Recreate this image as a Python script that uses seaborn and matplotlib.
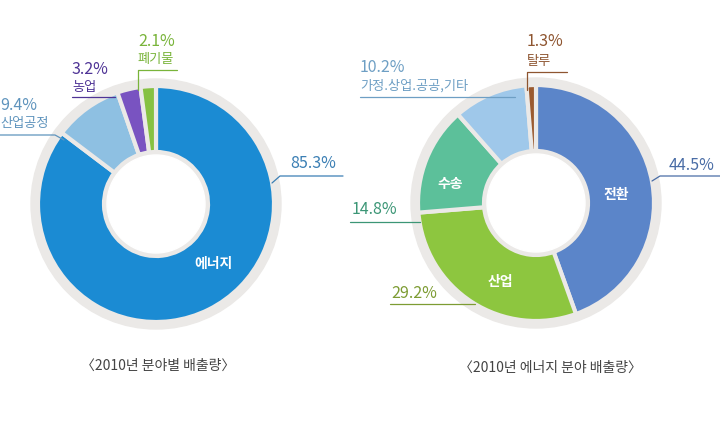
import matplotlib
matplotlib.use("Agg")
import matplotlib.pyplot as plt
from matplotlib.patches import Circle
import seaborn as sns

# 2010년 분야별 배출량
sector_labels = ['에너지', '산업공정', '농업', '폐기물']
sector_share = [85.3, 9.4, 3.2, 2.1]
sector_colors = ['#1b8bd3', '#8ec0e2', '#7953c1', '#86c142']
sector_text = ['#3b7fb4', '#5f94bd', '#4f3496', '#79b43a']

# 2010년 에너지 분야 배출량
energy_labels = ['전환', '산업', '수송', '가정.상업.공공,기타', '탈루']
energy_share = [44.5, 29.2, 14.8, 10.2, 1.3]
energy_colors = ['#5b85c9', '#8dc63f', '#5cc09a', '#9fc8ea', '#9b5a2f']
energy_text = ['#4a6da6', '#7d9c33', '#3c9676', '#6e9fc4', '#8e5530']

W, H = 720, 438

sns.set_theme(style="white")
plt.rcParams['font.family'] = ['Noto Sans CJK KR', 'DejaVu Sans']

fig = plt.figure(figsize=(7.2, 4.38), dpi=100)
ax = fig.add_axes([0, 0, 1, 1])


def donut(cx, cy, values, colors):
    ax.add_patch(Circle((cx, H - cy), 125, color='#ebe9e7', zorder=0))
    ax.pie(values, colors=colors, startangle=90, counterclock=False,
           center=(cx, H - cy), radius=118,
           wedgeprops=dict(width=66, edgecolor='#ebe9e7', linewidth=3))
    ax.add_patch(Circle((cx, H - cy), 49, color='white', zorder=3))


def leader(pts, color):
    ax.plot([p[0] for p in pts], [H - p[1] for p in pts], color=color, lw=0.9, zorder=4)


def label(x, y, s, color, size=11.5, weight='normal', ha='left'):
    ax.text(x, H - y, s, color=color, fontsize=size, fontweight=weight,
            ha=ha, va='center', zorder=5)


donut(156, 204, sector_share, sector_colors)
donut(536, 203, energy_share, energy_colors)

# left chart labels
label(290, 163, f'{sector_share[0]}%', sector_text[0])
leader([(272, 183), (280, 176), (343, 176)], sector_text[0])
label(0, 105, f'{sector_share[1]}%', sector_text[1])
label(0, 124, sector_labels[1], sector_text[1], size=9.5)
leader([(0, 135), (55, 135), (64, 140)], sector_text[1])
label(72, 69, f'{sector_share[2]}%', sector_text[2])
label(72, 87, sector_labels[2], sector_text[2], size=9.5)
leader([(72, 97), (115, 97)], sector_text[2])
label(138, 41, f'{sector_share[3]}%', sector_text[3])
label(138, 59, sector_labels[3], sector_text[3], size=9.5)
leader([(177, 70), (138, 70), (138, 90)], sector_text[3])
label(213, 264, sector_labels[0], 'white', size=10, weight='bold', ha='center')

# right chart labels
label(669, 165, f'{energy_share[0]}%', energy_text[0])
leader([(652, 181), (660, 176), (720, 176)], energy_text[0])
label(391, 294, f'{energy_share[1]}%', energy_text[1])
leader([(390, 304), (475, 304)], energy_text[1])
label(352, 210, f'{energy_share[2]}%', energy_text[2])
leader([(350, 222), (420, 222)], energy_text[2])
label(360, 68, f'{energy_share[3]}%', energy_text[3])
label(360, 86, energy_labels[3], energy_text[3], size=9.5)
leader([(360, 97), (515, 97)], energy_text[3])
label(527, 42, f'{energy_share[4]}%', energy_text[4])
label(527, 61, energy_labels[4], energy_text[4], size=9.5)
leader([(567, 72), (527, 72), (527, 90)], energy_text[4])
label(616, 195, energy_labels[0], 'white', size=10, weight='bold', ha='center')
label(500, 282, energy_labels[1], 'white', size=10, weight='bold', ha='center')
label(450, 184, energy_labels[2], 'white', size=10, weight='bold', ha='center')

# titles
label(158, 366, '〈2010년 분야별 배출량〉', '#444444', size=10, ha='center')
label(550, 368, '〈2010년 에너지 분야 배출량〉', '#444444', size=10, ha='center')

ax.set_xlim(0, W)
ax.set_ylim(0, H)
ax.set_aspect('equal')
ax.axis('off')

fig.savefig('out.png', dpi=100, facecolor='white')
